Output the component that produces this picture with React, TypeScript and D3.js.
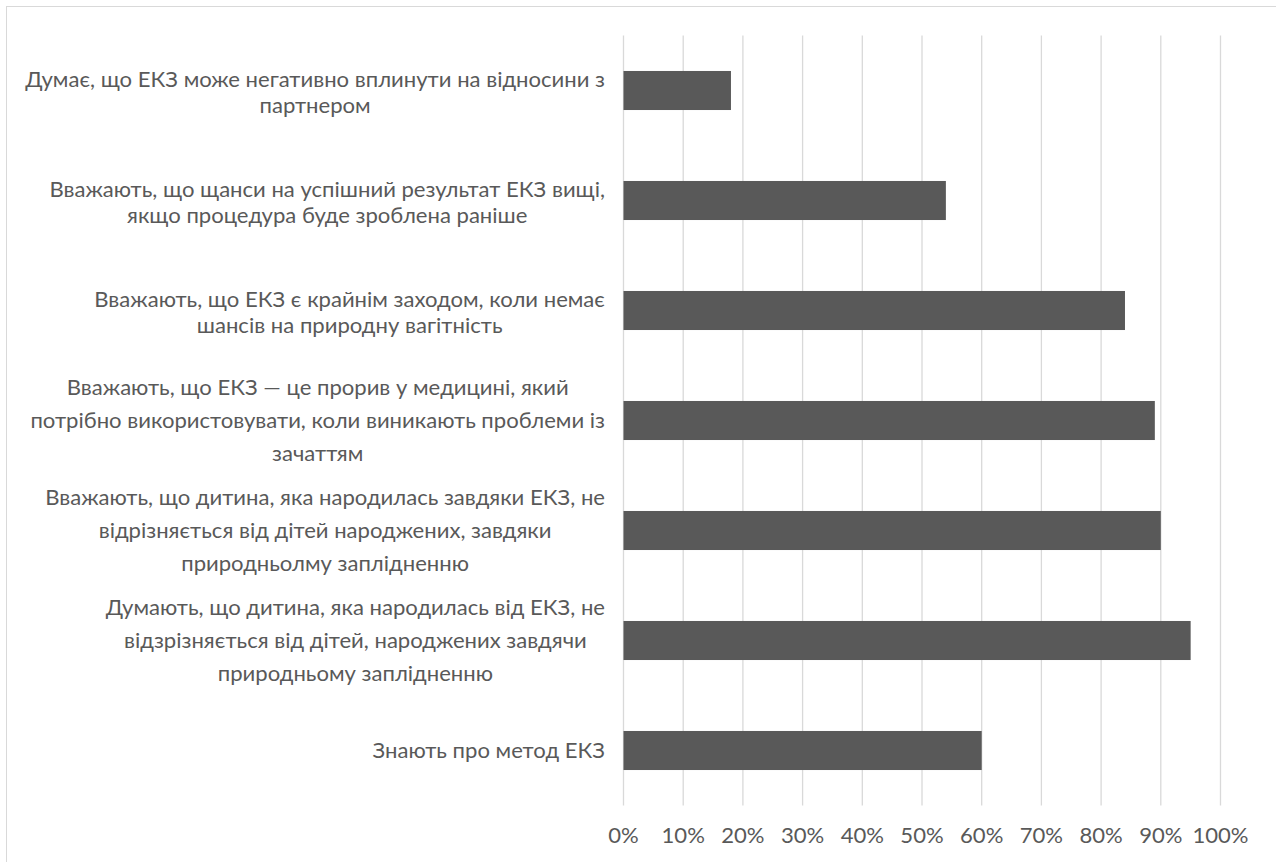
import React, { useMemo } from "react";
import * as d3 from "d3";

const categoryLines: string[][] = [
  ["Думає, що ЕКЗ може негативно вплинути на відносини з", "партнером"],
  ["Вважають, що щанси на успішний результат ЕКЗ вищі,", "якщо процедура буде зроблена раніше"],
  ["Вважають, що ЕКЗ є крайнім заходом, коли немає", "шансів на природну вагітність"],
  ["Вважають, що ЕКЗ — це прорив у медицині, який", "потрібно використовувати, коли виникають проблеми із", "зачаттям"],
  ["Вважають, що дитина, яка народилась завдяки ЕКЗ, не", "відрізняється від дітей народжених, завдяки", "природньолму заплідненню"],
  ["Думають, що дитина, яка народилась від ЕКЗ, не", "відзрізняється від дітей, народжених завдячи", "природньому заплідненню"],
  ["Знають про метод ЕКЗ"],
];
const values: number[] = [0.18, 0.54, 0.84, 0.89, 0.9, 0.95, 0.6];
const tickValues: number[] = [0, 0.1, 0.2, 0.3, 0.4, 0.5, 0.6, 0.7, 0.8, 0.9, 1.0];

const W = 1276;
const H = 862;
const FONT = "Lato, 'Open Sans', sans-serif";

function measure(text: string, size: number): number {
  const c = document.createElement("canvas");
  const ctx = c.getContext("2d")!;
  ctx.font = `${size}px Lato`;
  return ctx.measureText(text).width;
}

export default function App() {
  const ids = categoryLines.map((_, i) => String(i));
  const x = d3.scaleLinear().domain([0, 1]).range([623.5, 1220.5]);
  const y = d3.scaleBand<string>().domain(ids).range([35.5, 805.5]).paddingInner(0.645).paddingOuter(0.3225);

  const fontSize = useMemo(() => {
    const w = measure(categoryLines[0][0], 18);
    return (18 * 580) / w;
  }, []);

  const labelRight = 605;

  return (
    <svg width={W} height={H} style={{ position: "absolute", left: 0, top: 0, background: "#fff" }}>
      <rect x={6.5} y={6.5} width={W + 10} height={H + 10} fill="#fff" stroke="#d9d9d9" strokeWidth={1} />
      {tickValues.map((t) => (
        <line key={t} x1={x(t)} x2={x(t)} y1={35.5} y2={805.5} stroke="#d9d9d9" strokeWidth={1.3} />
      ))}
      {values.map((v, i) => (
        <rect key={i} x={x(0)} y={y(ids[i])!} width={x(v) - x(0)} height={y.bandwidth()} fill="#595959" />
      ))}
      {categoryLines.map((lines, i) => {
        const maxW = Math.max(...lines.map((l) => measure(l, fontSize)));
        const cx = labelRight - maxW / 2;
        const cy = y(ids[i])! + y.bandwidth() / 2;
        const lh = lines.length >= 3 ? 33 : 26;
        const off = lines.length === 2 ? 2 : 0;
        return (
          <g key={i}>
            {lines.map((l, j) => (
              <text
                key={j}
                x={cx}
                y={cy + off + (j - (lines.length - 1) / 2) * lh}
                dy="0.35em"
                fontFamily={FONT}
                fontSize={fontSize}
                fill="#595959"
                textAnchor="middle"
              >
                {l}
              </text>
            ))}
          </g>
        );
      })}
      {tickValues.map((t) => (
        <text key={"t" + t} x={x(t)} y={835} dy="0.35em" textAnchor="middle" fontFamily={FONT} fontSize={fontSize} fill="#595959">
          {d3.format(".0%")(t)}
        </text>
      ))}
    </svg>
  );
}
